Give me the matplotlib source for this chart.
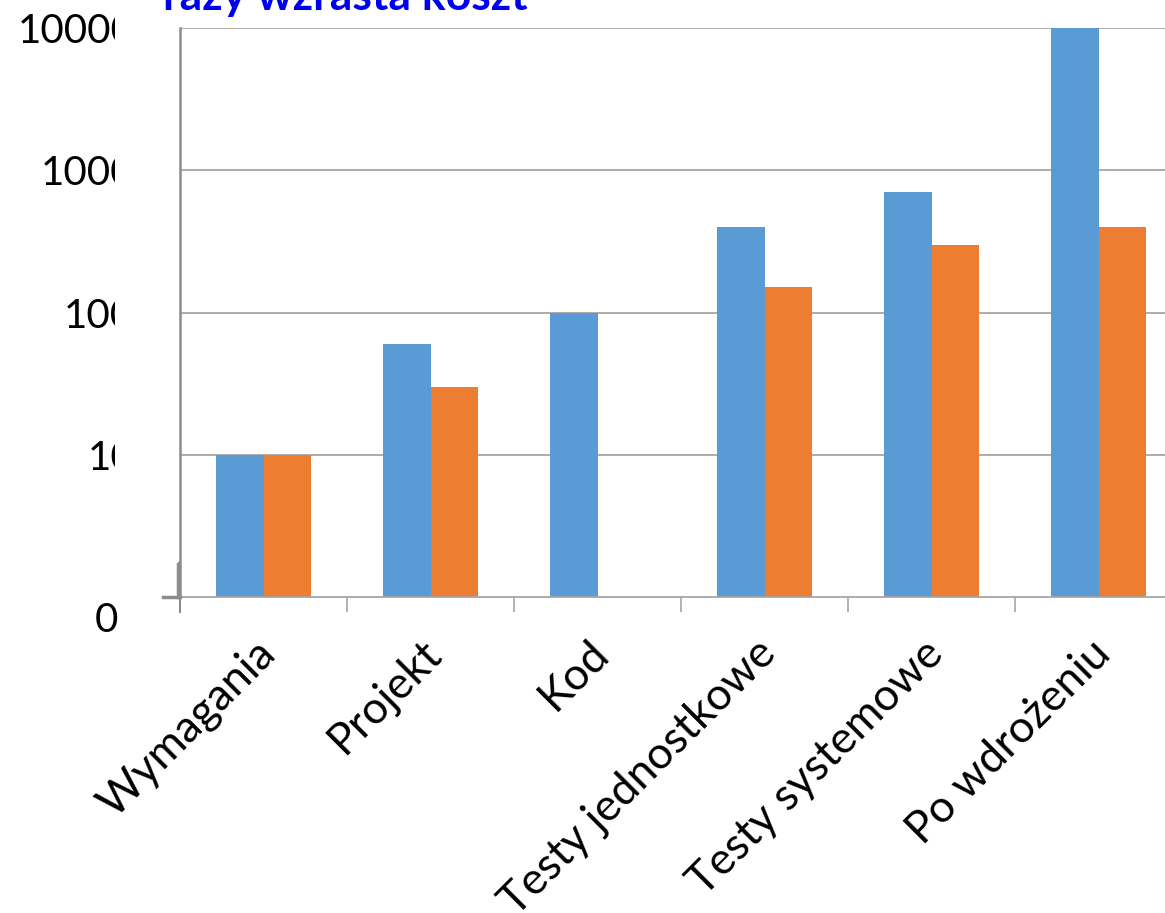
import numpy as np
import matplotlib
matplotlib.use("Agg")
import matplotlib.pyplot as plt
from matplotlib.patches import Rectangle
from matplotlib.lines import Line2D
import matplotlib.transforms as mtransforms

categories = ["Wymagania", "Projekt", "Kod", "Testy jednostkowe", "Testy systemowe", "Po wdrożeniu"]
series_blue = [10, 60, 100, 400, 700, 10000]
series_orange = [10, 30, np.nan, 150, 300, 400]
ytick_values = [10, 100, 1000, 10000]
ytick_labels = ["10", "100", "1000", "10000"]
title_text = "razy wzrasta koszt"

W, H = 1165, 913
fig = plt.figure(figsize=(W / 100, H / 100), dpi=100)
plt.rcParams['font.family'] = ['Lato', 'DejaVu Sans']

def px(x0, y0, x1, y1):
    return [x0 / W, 1 - y1 / H, (x1 - x0) / W, (y1 - y0) / H]

ax = fig.add_axes(px(180, 28, 1182, 597))
x = np.arange(len(categories))
bw = 0.283
ax.bar(x - bw / 2, series_blue, bw, color="#5B9BD5", zorder=2)
ax.bar(x + bw / 2, series_orange, bw, color="#ED7D31", zorder=2)

ax.set_yscale("log")
ax.set_ylim(1, 10000)
ax.set_xlim(-0.5, len(categories) - 0.5)

ax.set_yticks(ytick_values)
ax.set_yticklabels(ytick_labels)
ax.yaxis.set_minor_locator(matplotlib.ticker.NullLocator())
ax.tick_params(axis="y", length=0, labelsize=29, pad=33, colors="black")
ax.grid(axis="y", which="major", color="#A6A6A6", linewidth=1.3, zorder=0)
ax.set_axisbelow(True)

ax.set_xticks(x)
ax.set_xticklabels(categories, rotation=45, ha="right", va="center", rotation_mode="anchor", fontsize=32)
ax.set_xticks(np.arange(len(categories) + 1) - 0.5, minor=True)
ax.tick_params(axis="x", which="major", length=0, pad=0)
ax.tick_params(axis="x", which="minor", length=11, width=1.2, color="#A6A6A6")
offset = mtransforms.ScaledTranslation(5 / 100, -50 / 100, fig.dpi_scale_trans)
for lab in ax.get_xticklabels():
    lab.set_transform(lab.get_transform() + offset)

for s in ["top", "right"]:
    ax.spines[s].set_visible(False)
ax.spines["left"].set_color("#8C8C8C")
ax.spines["left"].set_linewidth(1.8)
ax.spines["bottom"].set_color("#A6A6A6")
ax.spines["bottom"].set_linewidth(1.3)

# left-axis extension and stub tick
fig.add_artist(Line2D([180 / W, 180 / W], [1 - 597 / H, 1 - 612 / H], color="#8C8C8C", lw=1.5))
fig.add_artist(Line2D([163 / W, 180 / W], [1 - 597 / H, 1 - 597 / H], color="#8C8C8C", lw=2.5))
fig.add_artist(Line2D([177.5 / W, 177.5 / W], [1 - 563 / H, 1 - 597 / H], color="#8C8C8C", lw=2.5))

# mask clipping the y tick labels
fig.add_artist(Rectangle((115 / W, 1 - 563 / H), 63 / W, 563 / H, transform=fig.transFigure,
                         facecolor="white", edgecolor="none", zorder=5))

fig.text(106 / W, 1 - 620 / H, "0", fontsize=29, ha="center", va="center")
fig.text(163 / W, 1 - 10 / H, title_text, fontsize=32, fontweight="bold", color="#0000F0",
         ha="left", va="baseline", zorder=6)

fig.savefig("out.png", dpi=100)
